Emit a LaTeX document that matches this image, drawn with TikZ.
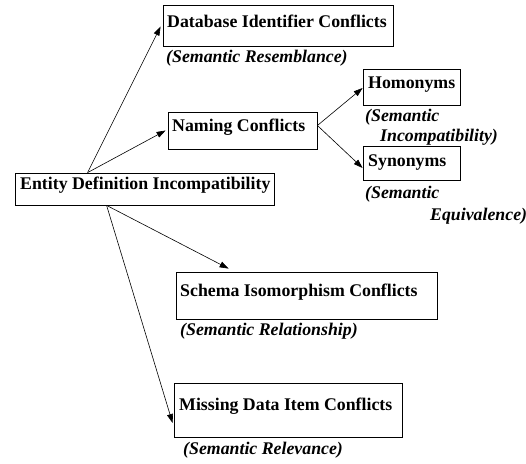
\documentclass[tikz,border=0pt]{standalone}
\usepackage{fontspec}
\setmainfont{Liberation Serif}
\usetikzlibrary{calc,arrows.meta}
\begin{document}
\begin{tikzpicture}[x=1pt,y=-1pt,
  box/.style={draw,line width=0.8pt,inner sep=0pt,minimum width=#1},
  lbl/.style={anchor=base west,inner sep=0pt,font=\fontsize{17.8}{20}\selectfont\bfseries},
  sem/.style={anchor=base west,inner sep=0pt,font=\fontsize{17.8}{20}\selectfont\bfseries\itshape},
  arr/.style={-{Triangle[length=9pt,width=6pt]},line width=0.6pt}]
\useasboundingbox (0,0) rectangle (526,463);
% boxes
\node[box=230pt,minimum height=41pt] (db) at (278,25.5) {};
\node[box=149pt,minimum height=37pt] (nc) at (242.5,130.5) {};
\node[box=97pt,minimum height=36pt] (hom) at (411.5,87) {};
\node[box=97pt,minimum height=34pt] (syn) at (411.5,163) {};
\node[box=259pt,minimum height=32pt] (ent) at (144.5,189) {};
\node[box=261pt,minimum height=47pt] (sch) at (306.5,295.5) {};
\node[box=228pt,minimum height=54pt] (mis) at (288,410) {};
% texts
\node[lbl] (tdb) at (167,27) {Database Identifier Conflicts};
\node[sem] (sdb) at (166,62) {(Semantic Resemblance)};
\node[lbl] (tnc) at (172,131) {Naming Conflicts};
\node[lbl] (thom) at (368,88.5) {Homonyms};
\node[sem] (shom1) at (365,121) {(Semantic};
\node[sem] (shom2) at (380,141.5) {Incompatibility)};
\node[lbl] (tsyn) at (368,166.5) {Synonyms};
\node[sem] (ssyn1) at (365,198.5) {(Semantic};
\node[sem] (ssyn2) at (430,220) {Equivalence)};
\node[lbl] (tent) at (20,189) {Entity Definition Incompatibility};
\node[lbl] (tsch) at (180,296) {Schema Isomorphism Conflicts};
\node[sem] (ssch) at (180,335) {(Semantic Relationship)};
\node[lbl] (tmis) at (179,410) {Missing Data Item Conflicts};
\node[sem] (smis) at (183,454) {(Semantic Relevance)};
% connectors
\coordinate (etop) at ($(ent.north west)+(73,0)$);
\coordinate (ebot) at ($(ent.south west)+(92,0)$);
\coordinate (nout) at ($(nc.east)+(0,-5)$);
\draw[arr] (etop) -- ($(db.west)+(-2,1)$);
\draw[arr] (etop) -- ($(nc.west)+(-2,0)$);
\draw[arr] (nout) -- ($(hom.west)+(0,1)$);
\draw[arr] (nout) -- ($(syn.west)+(0,5)$);
\draw[arr] (ebot) -- ($(sch.north west)+(53,-3)$);
\draw[arr] (ebot) -- ($(mis.west)+(-1,13)$);
\end{tikzpicture}
\end{document}
